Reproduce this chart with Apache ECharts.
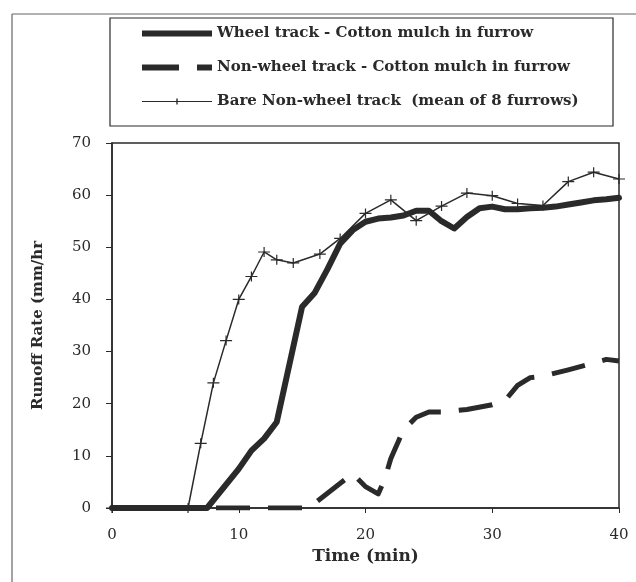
<!DOCTYPE html>
<html>
<head>
<meta charset="utf-8">
<script src="https://cdn.jsdelivr.net/npm/echarts@6/dist/echarts.min.js"></script>
<style>
  html, body { margin: 0; padding: 0; background: #fff; }
  #chart { width: 636px; height: 582px; }
</style>
</head>
<body>
<div id="chart"></div>
<script>
// series names
var seriesNames = [
  'Wheel track - Cotton mulch in furrow',
  'Non-wheel track - Cotton mulch in furrow',
  'Bare Non-wheel track  (mean of 8 furrows)'
]

// wheel track, cotton mulch (thick solid)
var wheelTime = [0, 7.5, 10, 11, 12, 13, 15, 16, 17, 18, 19, 20, 21, 22, 23, 24, 25, 26, 27, 28, 29, 30, 31, 32, 33, 34, 35, 36, 37, 38, 39, 40]
var wheelRate = [0, 0, 7.5, 11, 13.3, 16.5, 38.6, 41.3, 45.8, 50.7, 53.3, 54.9, 55.5, 55.7, 56.1, 57, 57, 55, 53.6, 55.8, 57.5, 57.8, 57.3, 57.3, 57.5, 57.6, 57.8, 58.2, 58.6, 59, 59.2, 59.5]

// non-wheel track, cotton mulch (thick dashed)
var nonTime = [0, 15.5, 19, 20, 21, 21.5, 22, 23, 24, 25, 26, 28, 30, 31, 32, 33, 34, 36, 38, 39, 40]
var nonRate = [0, 0, 6.6, 4.1, 2.7, 5.4, 9.5, 15, 17.4, 18.4, 18.4, 18.9, 19.8, 20.6, 23.5, 25, 25.3, 26.5, 27.8, 28.5, 28.2]

// bare non-wheel track (thin line with + markers)
var bareTime = [0, 6, 7, 8, 9, 10, 11, 12, 13, 14.3, 16.4, 18, 20, 22, 24, 26, 28, 30, 32, 34, 36, 38, 40]
var bareRate = [0, 0, 12.4, 24, 32.1, 40, 44.4, 49.1, 47.6, 47, 48.7, 51.7, 56.5, 59.1, 55.1, 57.9, 60.4, 59.9, 58.4, 58, 62.6, 64.4, 63.1]

// axis ticks
var xTicks = [0, 10, 20, 30, 40]
var yTicks = [0, 10, 20, 30, 40, 50, 60, 70]

function pairs (xs, ys) {
  var out = []
  for (var i = 0; i < xs.length; i++) {
    out.push([xs[i], ys[i]])
  }
  return out
}

var ink = '#2a2a2a'
var serif = 'DejaVu Serif'
var plusPath = 'path://M0,4.4H12V5.6H0Z M5.4,0H6.6V10H5.4Z'

// legend samples, drawn as 70x6 shapes
var legendIcons = [
  'path://M0,0H70V6H0Z',
  'path://M0,0H37V6H0Z M55,0H70V6H55Z',
  'path://M0,2.4H70V3.6H0Z M34.3,0H35.7V6H34.3Z'
]

var chart = echarts.init(document.getElementById('chart'), null, { renderer: 'canvas' })

var option = {
  backgroundColor: '#fff',
  animation: false,
  graphic: [
    // outer frame (top and left edges of the scan)
    { type: 'line', shape: { x1: 12, y1: 14, x2: 636, y2: 14 }, style: { stroke: '#666', lineWidth: 1.2 } },
    { type: 'line', shape: { x1: 12, y1: 14, x2: 12, y2: 582 }, style: { stroke: '#666', lineWidth: 1.2 } },
    // legend box
    { type: 'rect', shape: { x: 110, y: 18, width: 503, height: 108 }, style: { fill: 'none', stroke: ink, lineWidth: 1.2 } }
  ],
  legend: {
    orient: 'vertical',
    left: 137,
    top: 21,
    itemWidth: 70,
    itemHeight: 6,
    itemGap: 19,
    symbolKeepAspect: false,
    textStyle: { fontFamily: serif, fontSize: 15, fontWeight: 'bold', color: ink },
    data: [
      { name: seriesNames[0], icon: legendIcons[0] },
      { name: seriesNames[1], icon: legendIcons[1] },
      { name: seriesNames[2], icon: legendIcons[2] }
    ]
  },
  grid: {
    left: 112,
    right: 17,
    top: 143,
    bottom: 74,
    show: true,
    borderColor: ink,
    borderWidth: 1.5
  },
  xAxis: {
    type: 'value',
    min: xTicks[0],
    max: xTicks[xTicks.length - 1],
    interval: 10,
    name: 'Time (min)',
    nameLocation: 'middle',
    nameGap: 37,
    nameTextStyle: { fontFamily: serif, fontSize: 17, fontWeight: 'bold', color: ink },
    axisLine: { lineStyle: { color: ink, width: 1.5 } },
    axisTick: { show: true, length: 5, lineStyle: { color: ink } },
    axisLabel: { margin: 20, fontFamily: serif, fontSize: 15, color: ink },
    splitLine: { show: false }
  },
  yAxis: {
    type: 'value',
    min: yTicks[0],
    max: yTicks[yTicks.length - 1],
    interval: 10,
    name: 'Runoff Rate (mm/hr',
    nameLocation: 'middle',
    nameRotate: 90,
    nameGap: 66,
    nameTextStyle: { fontFamily: serif, fontSize: 15, fontWeight: 'bold', color: ink },
    axisLine: { show: true, lineStyle: { color: ink, width: 1.5 } },
    axisTick: { show: true, length: 6, lineStyle: { color: ink } },
    axisLabel: { margin: 21, fontFamily: serif, fontSize: 15, color: ink },
    splitLine: { show: false }
  },
  series: [
    {
      name: seriesNames[0],
      type: 'line',
      data: pairs(wheelTime, wheelRate),
      symbol: 'none',
      z: 3,
      itemStyle: { color: ink },
      lineStyle: { color: ink, width: 6, cap: 'round', join: 'round' }
    },
    {
      name: seriesNames[1],
      type: 'line',
      data: pairs(nonTime, nonRate),
      symbol: 'none',
      z: 2,
      itemStyle: { color: ink },
      lineStyle: { color: ink, width: 5, type: [34, 18], join: 'round' }
    },
    {
      name: seriesNames[2],
      type: 'line',
      data: pairs(bareTime, bareRate),
      symbol: plusPath,
      symbolSize: [12, 10],
      showAllSymbol: true,
      z: 4,
      itemStyle: { color: ink, borderWidth: 0 },
      lineStyle: { color: ink, width: 1.5 }
    }
  ]
}

chart.setOption(option)
</script>
</body>
</html>
